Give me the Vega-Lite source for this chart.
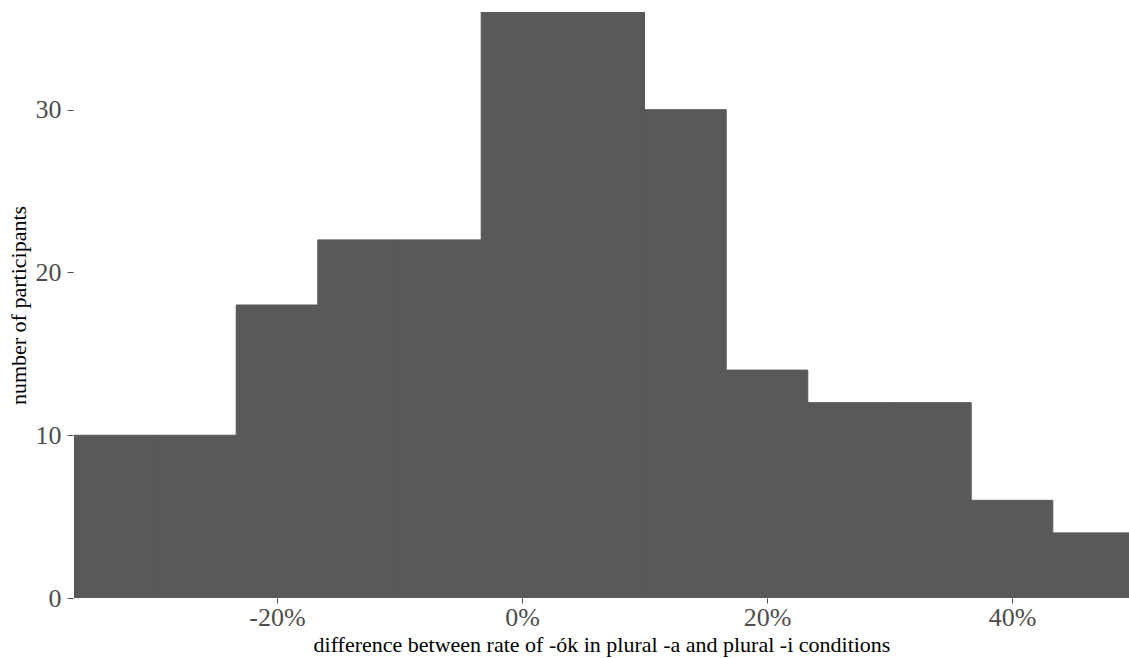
{
  "$schema": "https://vega.github.io/schema/vega-lite/v6.json",
  "width": 1055,
  "height": 586,
  "autosize": {"type": "none"},
  "padding": {"left": 74, "top": 12, "right": 0, "bottom": 60},
  "background": "white",
  "config": {
    "view": {"stroke": null},
    "font": "Liberation Serif",
    "axis": {
      "grid": false,
      "domain": false,
      "labelFont": "Liberation Serif",
      "titleFont": "Liberation Serif",
      "labelColor": "#4d4d4d",
      "tickColor": "#4d4d4d",
      "labelFontSize": 26,
      "titleFontSize": 22,
      "titleFontWeight": "normal",
      "titleColor": "black",
      "tickWidth": 1
    }
  },
  "data": {
    "values": [
      {"bin_start": -0.3667, "bin_end": -0.3, "count": 10},
      {"bin_start": -0.3, "bin_end": -0.2333, "count": 10},
      {"bin_start": -0.2333, "bin_end": -0.1667, "count": 18},
      {"bin_start": -0.1667, "bin_end": -0.1, "count": 22},
      {"bin_start": -0.1, "bin_end": -0.0333, "count": 22},
      {"bin_start": -0.0333, "bin_end": 0.0333, "count": 36},
      {"bin_start": 0.0333, "bin_end": 0.1, "count": 36},
      {"bin_start": 0.1, "bin_end": 0.1667, "count": 30},
      {"bin_start": 0.1667, "bin_end": 0.2333, "count": 14},
      {"bin_start": 0.2333, "bin_end": 0.3, "count": 12},
      {"bin_start": 0.3, "bin_end": 0.3667, "count": 12},
      {"bin_start": 0.3667, "bin_end": 0.4333, "count": 6},
      {"bin_start": 0.4333, "bin_end": 0.5, "count": 4}
    ]
  },
  "mark": {"type": "rect", "color": "#595959", "stroke": "#595959", "strokeWidth": 1, "clip": true},
  "encoding": {
    "x": {
      "field": "bin_start",
      "type": "quantitative",
      "scale": {"domain": [-0.3657, 0.4955], "nice": false, "zero": false},
      "axis": {
        "values": [-0.2, 0, 0.2, 0.4],
        "format": ".0%",
        "labelExpr": "replace(datum.label, '−', '-')",
        "tickSize": 5,
        "labelPadding": 1,
        "titlePadding": 4,
        "title": "difference between rate of -ók in plural -a and plural -i conditions"
      }
    },
    "x2": {"field": "bin_end"},
    "y": {
      "field": "count",
      "type": "quantitative",
      "scale": {"domain": [0, 36], "nice": false},
      "axis": {
        "values": [0, 10, 20, 30],
        "tickSize": 6,
        "offset": 1,
        "labelPadding": 6,
        "titlePadding": 5,
        "title": "number of participants"
      }
    },
    "y2": {"datum": 0}
  }
}
